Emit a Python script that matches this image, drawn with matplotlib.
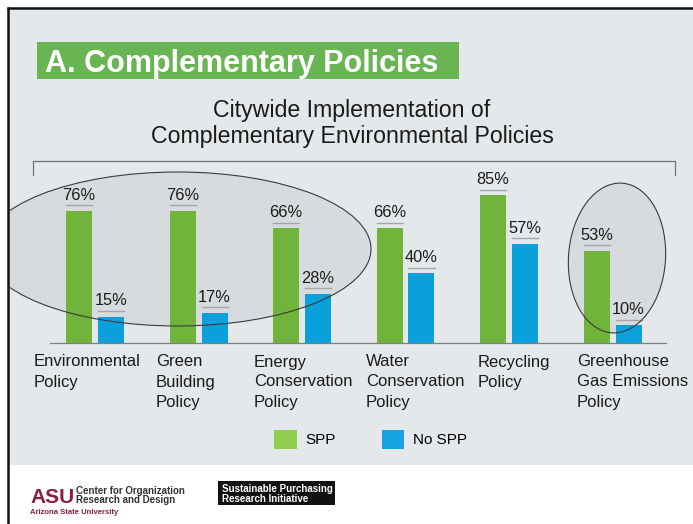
import matplotlib
matplotlib.use("Agg")
import matplotlib.pyplot as plt
from matplotlib.patches import Rectangle, Ellipse, Patch
from matplotlib.transforms import ScaledTranslation
import numpy as np

plt.rcParams['font.family'] = ['Liberation Sans', 'DejaVu Sans']

# ---------------- data ----------------
categories = ["Environmental\nPolicy", "Green\nBuilding\nPolicy",
              "Energy\nConservation\nPolicy", "Water\nConservation\nPolicy",
              "Recycling\nPolicy", "Greenhouse\nGas Emissions\nPolicy"]
spp = [76, 76, 66, 66, 85, 53]
no_spp = [15, 17, 28, 40, 57, 10]
series_names = ["SPP", "No SPP"]
slide_title = "A. Complementary Policies"
chart_title = "Citywide Implementation of\nComplementary Environmental Policies"

# ---------------- style ----------------
W, H, DPI = 693, 524, 100
GREEN, BLUE = '#70b43c', '#0aa0dc'
LEG_GREEN, LEG_BLUE = '#8fce4f', '#16a2e2'
BG_GRAY = '#e5e8ea'
LABEL_DX = [-61, -42.5, -48, -39.5, -31, -35.5]   # px nudges for category labels

fig = plt.figure(figsize=(W / DPI, H / DPI), dpi=DPI, facecolor='white')


def fx(px):
    return px / W


def fy(py):
    return 1 - py / H


# background axes in pixel coordinates (y downwards)
bg = fig.add_axes([0, 0, 1, 1], zorder=0)
bg.set_xlim(0, W)
bg.set_ylim(H, 0)
bg.axis('off')

gray = Rectangle((8, 8), W - 8, 465 - 8, facecolor=BG_GRAY, edgecolor='none')
bg.add_patch(gray)
bg.plot([7, W], [8, 8], color='#111111', lw=1.8, solid_capstyle='butt')
bg.plot([8, 8], [7, H], color='#111111', lw=1.8, solid_capstyle='butt')

# green title box
bg.add_patch(Rectangle((36.7, 41.7), 459 - 36.7, 79.3 - 41.7,
                       facecolor='#6ab553', edgecolor='none'))
bg.text(45, 72, slide_title, color='white', fontsize=22, fontweight='bold',
        ha='left', va='baseline')

# chart title
for i, line in enumerate(chart_title.split('\n')):
    bg.text(352, 117 + 26.5 * i, line, fontsize=16.7, ha='center',
            va='baseline', color='#1a1a1a')

# bracket
bg.plot([33, 33, 675, 675], [175, 161, 161, 175], color='#707070', lw=0.9)

# ellipse fills (below bars)
ell_specs = [((177.5, 249), 387, 154, 0), ((617, 258), 97, 150, 4)]
for (c, w, h, a) in ell_specs:
    e = Ellipse(c, w, h, angle=a, facecolor='black', alpha=0.055, edgecolor='none')
    bg.add_patch(e)
    e.set_clip_path(gray)

# ---------------- bars ----------------
cx0, step = 95, 103.5
ax = fig.add_axes([fx(50), fy(342.5), (666 - 50) / W, 173 / H], zorder=1)
ax.patch.set_alpha(0)
x = np.arange(len(categories))
ax.set_xlim((50 - cx0) / step, (666 - cx0) / step)
ax.set_ylim(0, 100)
bw = 26 / step
off = 16 / step
ax.bar(x - off, spp, bw, color=GREEN, zorder=2)
ax.bar(x + off, no_spp, bw, color=BLUE, zorder=2)
for s in ['top', 'left', 'right']:
    ax.spines[s].set_visible(False)
ax.spines['bottom'].set_color('#7f7f7f')
ax.spines['bottom'].set_linewidth(0.9)
ax.set_xticks([])
ax.set_yticks([])

line_tr = ax.transData + ScaledTranslation(0, 5.6 / DPI, fig.dpi_scale_trans)
for xs, vals in ((x - off, spp), (x + off, no_spp)):
    for xi, v in zip(xs, vals):
        ax.plot([xi - bw / 2, xi + bw / 2], [v, v], transform=line_tr,
                color='#a6a6a6', lw=1.0, clip_on=False)
        ax.annotate(f"{v}%", (xi, v), xytext=(0, 11.3), textcoords='offset pixels',
                    ha='center', va='baseline', fontsize=11.8, color='#1a1a1a',
                    annotation_clip=False)

for xi, lab, dx in zip(x, categories, LABEL_DX):
    for j, line in enumerate(lab.split('\n')):
        tr = ax.transData + ScaledTranslation(dx / DPI, -(24 + 20 * j) / DPI,
                                              fig.dpi_scale_trans)
        ax.text(xi, 0, line, transform=tr, ha='left', va='baseline',
                fontsize=12, color='#1a1a1a', clip_on=False)

# legend
handles = [Patch(facecolor=LEG_GREEN, edgecolor='none'),
           Patch(facecolor=LEG_BLUE, edgecolor='none')]
fig.legend(handles, series_names, loc='upper left',
           bbox_to_anchor=(fx(274), fy(430)), ncol=2, frameon=False,
           fontsize=11, handlelength=1.5, handleheight=1.5, handletextpad=0.55,
           columnspacing=3.0, borderpad=0, borderaxespad=0)

# ---------------- overlay (ellipse outlines) ----------------
ov = fig.add_axes([0, 0, 1, 1], zorder=3)
ov.set_xlim(0, W)
ov.set_ylim(H, 0)
ov.axis('off')
ov.patch.set_alpha(0)
gray2 = Rectangle((9, 9), W - 9, 465 - 9, transform=ov.transData)
for (c, w, h, a) in ell_specs:
    e = Ellipse(c, w, h, angle=a, facecolor='none', edgecolor='#3a3a3a', lw=0.8)
    ov.add_patch(e)
    e.set_clip_path(gray2)

# ---------------- logos ----------------
bg.text(30, 503, "ASU", color='#8c1d40', fontsize=15, fontweight='heavy',
        ha='left', va='baseline')
bg.text(76, 494, "Center for Organization", fontsize=7, fontweight='bold',
        color='#333333', va='baseline')
bg.text(76, 503, "Research and Design", fontsize=7, fontweight='bold',
        color='#333333', va='baseline')
bg.text(30, 514, "Arizona State University", fontsize=5.5, fontweight='bold',
        color='#8c1d40', va='baseline')
bg.add_patch(Rectangle((218, 481), 117, 24, facecolor='#111111', edgecolor='none'))
bg.text(222, 491.5, "Sustainable Purchasing", fontsize=7, fontweight='bold',
        color='white', va='baseline')
bg.text(222, 501.5, "Research Initiative", fontsize=7, fontweight='bold',
        color='white', va='baseline')

fig.savefig('out.png', dpi=DPI, facecolor='white')
